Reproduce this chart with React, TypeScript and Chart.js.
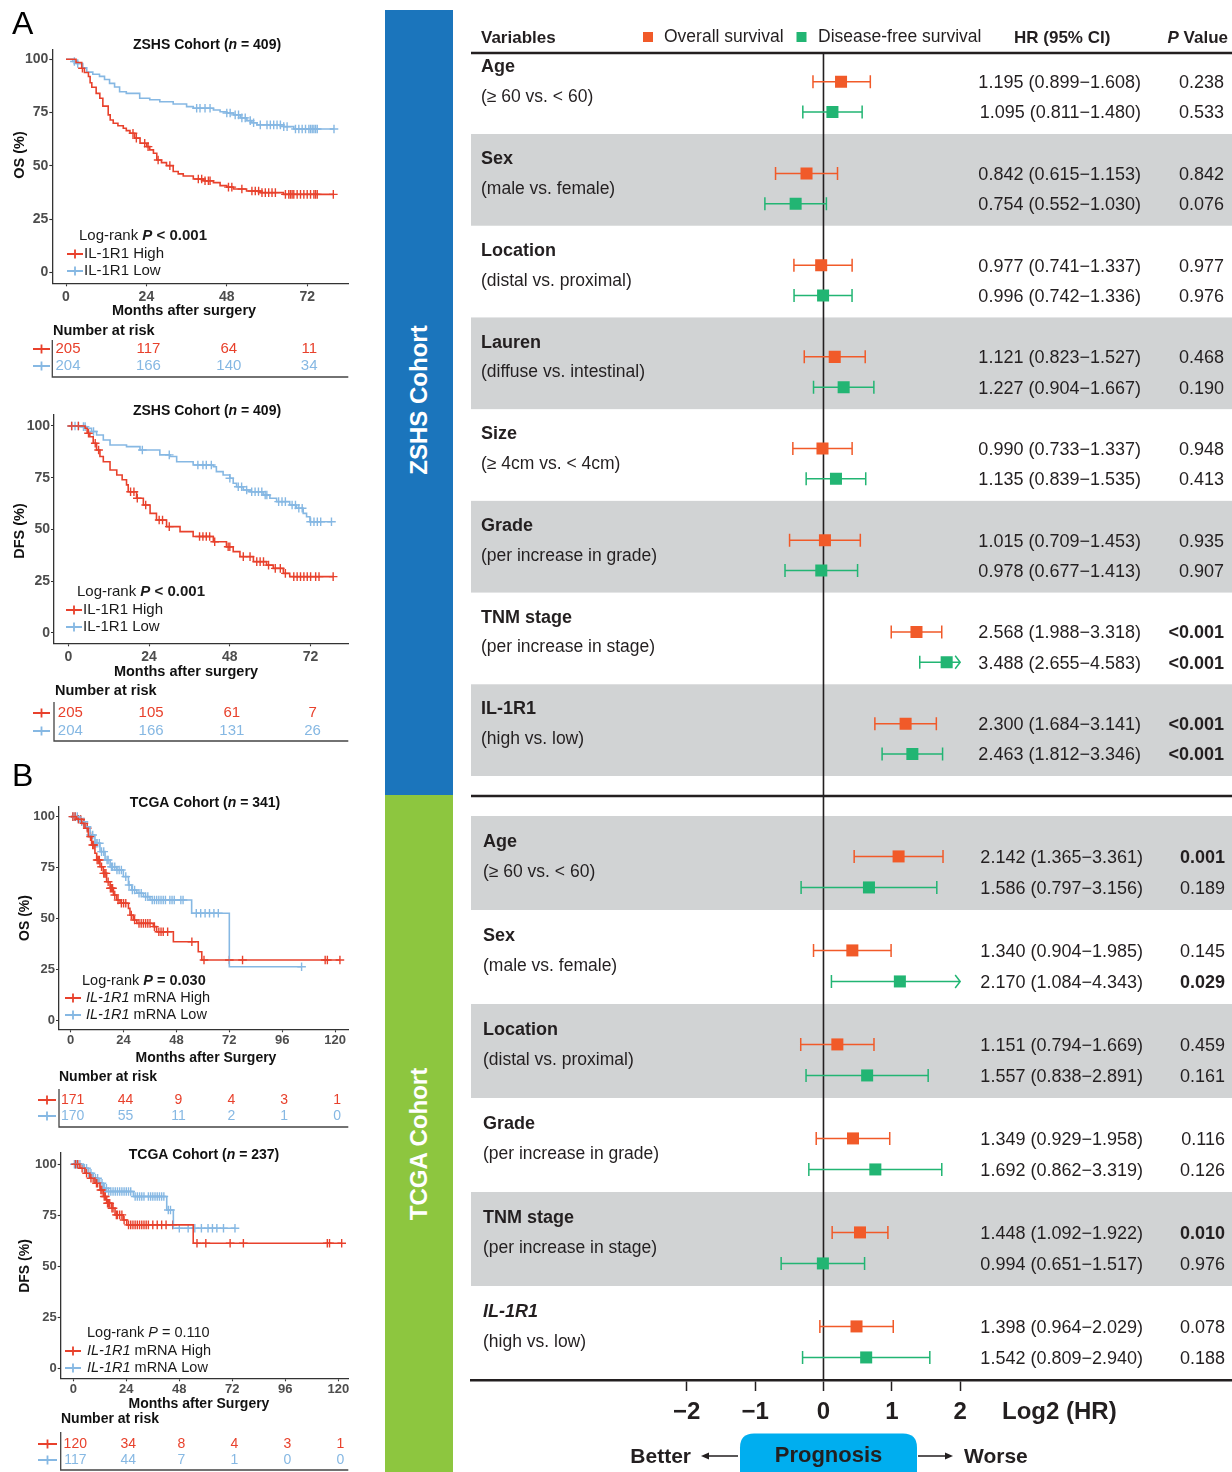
import React, { useEffect, useRef } from "react";
import { Chart, registerables } from "chart.js";

Chart.register(...registerables);

const FONT = "'Liberation Sans', Arial, Helvetica, sans-serif";
Chart.defaults.font.family = FONT;

// ---------------- colours ----------------
const RED = "#E8412C";
const BLUE = "#86B8E3";
const OS_COL = "#F15A29";
const DFS_COL = "#22B573";
const BAND_GRAY = "#D1D3D4";
const INK = "#231F20";

// ---------------- Kaplan-Meier data ----------------
const MONTH_TICKS_ZSHS = [0, 24, 48, 72];
const MONTH_TICKS_TCGA = [0, 24, 48, 72, 96, 120];
const SURV_TICKS = [0, 25, 50, 75, 100];

// A – ZSHS OS
const A_OS_HIGH_T = [0, 3.0, 4.7, 5.5, 6.7, 7.2, 7.7, 9.0, 10.1, 11.0, 12.6, 13.2, 14.1, 15.5, 17.1, 18.0, 19.1, 20.5, 22.1, 24.1, 25.0, 26.1, 27.1, 28.5, 30.0, 32.0, 33.5, 35.0, 38.0, 41.0, 44.0, 46.0, 48.0, 50.0, 53.9, 58.0, 64.9, 79.8];
const A_OS_HIGH_S = [100, 98.5, 95.8, 93.8, 91.9, 89.0, 86.9, 84.0, 81.7, 78.0, 73.9, 71.5, 70.0, 68.8, 67.6, 66.5, 65.3, 63.0, 60.6, 59.0, 57.5, 55.9, 52.7, 51.5, 50.1, 47.3, 46.2, 45.2, 43.8, 43.0, 42.1, 40.7, 40.0, 39.1, 38.2, 37.4, 36.6, 36.6];
const A_OS_HIGH_C = [4.9, 20.0, 21.0, 23.5, 24.5, 27.5, 31.0, 39.5, 40.5, 41.5, 42.5, 43.0, 48.5, 49.5, 52.5, 55.5, 56.5, 57.5, 58.5, 59.5, 60.5, 61.5, 62.5, 65.5, 66.5, 67.0, 67.5, 68.0, 69.0, 70.0, 71.0, 72.0, 73.0, 74.0, 74.5, 75.0, 79.8];
const A_OS_LOW_T = [0, 2.0, 3.2, 5.0, 6.2, 8.0, 10.0, 11.5, 13.0, 14.5, 16.0, 18.0, 22.0, 25.0, 28.0, 32.0, 36.0, 38.0, 44.0, 46.0, 48.0, 50.0, 52.0, 54.0, 55.5, 57.0, 65.0, 68.0, 80.0];
const A_OS_LOW_S = [100, 99.0, 98.0, 96.0, 94.0, 93.0, 92.0, 90.5, 88.7, 87.0, 84.8, 84.0, 81.7, 81.0, 80.1, 79.0, 77.8, 77.0, 76.2, 75.4, 74.8, 73.9, 72.5, 71.2, 70.2, 69.2, 68.4, 67.3, 67.3];
const A_OS_LOW_C = [2.5, 3.5, 39, 40, 41.5, 43, 48, 49, 50.5, 51.5, 52.5, 53.5, 55, 56, 58, 60, 61, 62, 63, 64, 65, 66, 68.5, 69.5, 70.5, 71.5, 72.5, 73, 73.5, 74, 74.5, 75, 80];
const A_OS_RISK_HIGH = [205, 117, 64, 11];
const A_OS_RISK_LOW = [204, 166, 140, 34];

// A – ZSHS DFS
const A_DFS_HIGH_T = [0, 4.0, 5.0, 5.6, 6.4, 7.4, 8.4, 9.4, 10.4, 12.4, 14.4, 16.0, 17.3, 17.8, 20.3, 22.3, 24.3, 26.2, 29.2, 33.2, 37.1, 43.1, 47.0, 49.0, 51.0, 55.0, 58.9, 60.9, 63.9, 65.8, 78.7];
const A_DFS_HIGH_S = [100, 100, 98.9, 96.5, 94.8, 91.6, 88.4, 85.2, 82.7, 78.7, 76.3, 74.0, 71.5, 68.2, 65.0, 61.8, 57.7, 54.5, 51.3, 48.9, 46.5, 44.0, 41.6, 39.2, 36.8, 34.4, 32.7, 31.1, 28.7, 27.1, 27.1];
const A_DFS_HIGH_C = [1.0, 3.0, 6.0, 8.0, 9.0, 18.5, 19.5, 20.5, 23.0, 27.0, 28.0, 30.0, 39.0, 40.0, 41.0, 42.0, 43.5, 47.5, 48.0, 52.0, 54.0, 56.0, 57.0, 58.0, 59.5, 61.5, 63.0, 64.5, 67.0, 68.0, 69.0, 70.0, 71.0, 72.0, 73.5, 74.5, 78.7];
const A_DFS_LOW_T = [0, 3.5, 5.4, 6.9, 8.4, 10.4, 12.4, 17.3, 21.3, 27.2, 30.2, 32.2, 37.1, 43.1, 44.0, 46.0, 48.0, 49.0, 50.0, 52.0, 54.0, 57.9, 59.9, 61.9, 65.8, 67.8, 69.8, 70.8, 71.8, 78.2];
const A_DFS_LOW_S = [100, 99.7, 98.9, 97.3, 95.6, 93.2, 90.8, 90.0, 88.4, 86.0, 85.2, 82.7, 81.1, 80.3, 77.9, 76.3, 74.7, 72.3, 70.6, 69.0, 68.2, 66.6, 65.0, 63.4, 61.8, 60.2, 57.7, 56.1, 53.7, 53.7];
const A_DFS_LOW_C = [1.0, 2.0, 3.0, 4.5, 5.0, 7.5, 22.0, 30.0, 38.5, 40.0, 41.0, 42.5, 48.0, 50.5, 51.5, 53.0, 54.5, 55.5, 56.5, 57.5, 58.5, 59.0, 62.5, 63.5, 64.5, 66.5, 67.5, 68.5, 69.5, 72.0, 73.0, 74.0, 75.0, 78.2];
const A_DFS_RISK_HIGH = [205, 105, 61, 7];
const A_DFS_RISK_LOW = [204, 166, 131, 26];

// B – TCGA OS
const B_OS_HIGH_T = [0, 2.7, 5.0, 6.5, 8.0, 9.5, 11.0, 11.8, 13.3, 14.8, 16.3, 17.9, 19.4, 20.9, 22.4, 26.2, 26.9, 28.4, 30.0, 37.5, 39.0, 46.6, 57.9, 59.5, 122.2];
const B_OS_HIGH_S = [100, 98.7, 96.7, 94.3, 90.2, 86.1, 82.0, 78.7, 75.4, 72.1, 68.0, 64.8, 61.5, 59.0, 57.4, 54.9, 51.6, 49.2, 47.5, 45.9, 43.4, 38.5, 33.6, 29.5, 29.5];
const B_OS_HIGH_C = [1, 2, 3.5, 4.5, 6, 7.5, 9, 10, 10.5, 12, 12.5, 13, 14, 15, 15.5, 16, 17, 18, 18.5, 19, 20, 21.5, 23, 24, 25, 27.5, 29, 31, 32, 33, 34, 35, 36, 38, 40, 41, 42, 44, 55, 60.5, 72, 78, 115.5, 116.5, 122.2];
const B_OS_LOW_T = [0, 4.2, 6.5, 8.8, 11.0, 13.3, 15.6, 17.9, 20.9, 23.9, 26.2, 27.7, 30.0, 33.0, 36.0, 54.9, 72.0, 104.8];
const B_OS_LOW_S = [100, 97.5, 95.0, 91.0, 86.9, 82.8, 78.7, 75.4, 73.8, 70.5, 66.4, 63.9, 62.3, 60.7, 59.0, 52.5, 26.2, 26.2];
const B_OS_LOW_C = [1, 2, 3, 5, 6, 7.5, 9, 10, 11.5, 12, 13, 14, 15, 16.5, 17, 18.5, 19, 20, 21, 22, 23, 25, 26.5, 28, 29, 31, 32, 34, 35, 37, 38, 39, 40, 41, 42, 43, 45, 46, 47, 50, 51, 57, 59, 61, 63, 65, 67, 104.8];
const B_OS_RISK_HIGH = [171, 44, 9, 4, 3, 1];
const B_OS_RISK_LOW = [170, 55, 11, 2, 1, 0];

// B – TCGA DFS
const B_DFS_HIGH_T = [0, 3.0, 5.3, 7.5, 9.8, 12.1, 13.6, 15.1, 17.4, 18.9, 22.6, 24.2, 54.3, 121.5];
const B_DFS_HIGH_S = [100, 98.0, 95.6, 93.1, 90.7, 87.4, 84.2, 80.9, 78.4, 75.2, 72.7, 70.3, 61.3, 61.3];
const B_DFS_HIGH_C = [1, 2, 4, 6, 8, 9, 10.5, 11, 12.5, 13, 14, 14.5, 15.5, 16, 16.5, 17.5, 18, 19.5, 20, 21, 22, 23, 25, 26, 27, 28, 29, 30, 31, 32, 33, 34, 36, 38, 40, 42, 45, 56, 60, 71, 77, 115, 116, 121.5];
const B_DFS_LOW_T = [0, 4.5, 6.8, 9.0, 11.3, 13.6, 15.1, 27.2, 42.3, 45.3, 73.2];
const B_DFS_LOW_S = [100, 98.0, 95.6, 93.1, 90.7, 88.2, 86.6, 84.2, 77.6, 68.6, 68.6];
const B_DFS_LOW_C = [0.5, 1, 1.5, 2, 3, 5, 6, 7, 8, 10, 11, 12, 13, 14, 15, 16, 17, 18, 19, 20, 21, 22, 23, 24, 25, 26, 28, 29, 30, 31, 32, 34, 35, 36, 37, 38, 39, 40, 41, 43, 44, 48, 52, 55, 58, 61, 63, 65, 68, 73.2];
const B_DFS_RISK_HIGH = [120, 34, 8, 4, 3, 1];
const B_DFS_RISK_LOW = [117, 44, 7, 1, 0, 0];

// ---------------- Forest plot data ----------------
const ZSHS_VARS = ["Age", "Sex", "Location", "Lauren", "Size", "Grade", "TNM stage", "IL-1R1"];
const ZSHS_DESC = ["(\u2265 60 vs. < 60)", "(male vs. female)", "(distal vs. proximal)", "(diffuse vs. intestinal)", "(\u2265 4cm vs. < 4cm)", "(per increase in grade)", "(per increase in stage)", "(high vs. low)"];
const ZSHS_OS_HR = [1.195, 0.842, 0.977, 1.121, 0.990, 1.015, 2.568, 2.300];
const ZSHS_OS_LO = [0.899, 0.615, 0.741, 0.823, 0.733, 0.709, 1.988, 1.684];
const ZSHS_OS_HI = [1.608, 1.153, 1.337, 1.527, 1.337, 1.453, 3.318, 3.141];
const ZSHS_OS_P = ["0.238", "0.842", "0.977", "0.468", "0.948", "0.935", "<0.001", "<0.001"];
const ZSHS_DFS_HR = [1.095, 0.754, 0.996, 1.227, 1.135, 0.978, 3.488, 2.463];
const ZSHS_DFS_LO = [0.811, 0.552, 0.742, 0.904, 0.839, 0.677, 2.655, 1.812];
const ZSHS_DFS_HI = [1.480, 1.030, 1.336, 1.667, 1.535, 1.413, 4.583, 3.346];
const ZSHS_DFS_P = ["0.533", "0.076", "0.976", "0.190", "0.413", "0.907", "<0.001", "<0.001"];

const TCGA_VARS = ["Age", "Sex", "Location", "Grade", "TNM stage", "IL-1R1"];
const TCGA_DESC = ["(\u2265 60 vs. < 60)", "(male vs. female)", "(distal vs. proximal)", "(per increase in grade)", "(per increase in stage)", "(high vs. low)"];
const TCGA_OS_HR = [2.142, 1.340, 1.151, 1.349, 1.448, 1.398];
const TCGA_OS_LO = [1.365, 0.904, 0.794, 0.929, 1.092, 0.964];
const TCGA_OS_HI = [3.361, 1.985, 1.669, 1.958, 1.922, 2.029];
const TCGA_OS_P = ["0.001", "0.145", "0.459", "0.116", "0.010", "0.078"];
const TCGA_DFS_HR = [1.586, 2.170, 1.557, 1.692, 0.994, 1.542];
const TCGA_DFS_LO = [0.797, 1.084, 0.838, 0.862, 0.651, 0.809];
const TCGA_DFS_HI = [3.156, 4.343, 2.891, 3.319, 1.517, 2.940];
const TCGA_DFS_P = ["0.189", "0.029", "0.161", "0.126", "0.976", "0.188"];

const LOG2_TICKS = [-2, -1, 0, 1, 2];
const LOG2_CLIP = 2;

// ---------------- helpers ----------------
type Seg = { t: string; f: string };

function drawRich(ctx: any, segs: Seg[], x: number, y: number, align: string, color: string) {
  ctx.save();
  ctx.fillStyle = color;
  ctx.textBaseline = "middle";
  ctx.textAlign = "left";
  let total = 0;
  const widths = segs.map((s) => {
    ctx.font = `${s.f} ${FONT}`;
    const w = ctx.measureText(s.t).width;
    total += w;
    return w;
  });
  let cx = align === "center" ? x - total / 2 : align === "right" ? x - total : x;
  segs.forEach((s, i) => {
    ctx.font = `${s.f} ${FONT}`;
    ctx.fillText(s.t, cx, y);
    cx += widths[i];
  });
  ctx.restore();
}

function stepAt(t: number[], s: number[], v: number) {
  let r = s[0];
  for (let i = 0; i < t.length; i++) if (t[i] <= v) r = s[i];
  return r;
}

function lineCross(ctx: any, x0: number, x1: number, y: number, color: string) {
  ctx.save();
  ctx.strokeStyle = color;
  ctx.lineWidth = 1.8;
  ctx.beginPath();
  ctx.moveTo(x0, y);
  ctx.lineTo(x1, y);
  const xm = (x0 + x1) / 2;
  ctx.moveTo(xm, y - 4.5);
  ctx.lineTo(xm, y + 4.5);
  ctx.stroke();
  ctx.restore();
}

// ---------------- KM specs ----------------
const KM_SPECS: any[] = [
  {
    cv: { left: 0, top: 0, w: 380, h: 385 },
    area: { L: 52.3, R: 348.3, T: 49.3, B: 283.3 },
    xMin: -4.09, xMax: 84.27, yMin: -5.16, yMax: 104.7,
    xTicks: MONTH_TICKS_ZSHS, tickFont: 14, xPad: 2,
    high: { t: A_OS_HIGH_T, s: A_OS_HIGH_S, c: A_OS_HIGH_C },
    low: { t: A_OS_LOW_T, s: A_OS_LOW_S, c: A_OS_LOW_C },
    riskHigh: A_OS_RISK_HIGH, riskLow: A_OS_RISK_LOW,
    letter: { text: "A", y: 25 },
    title: [{ t: "ZSHS Cohort (", f: "bold 14px" }, { t: "n", f: "italic bold 14px" }, { t: " = 409)", f: "bold 14px" }],
    titleX: 207, titleY: 45,
    yTitle: "OS (%)", yTitleX: 20, yTitleY: 155,
    xTitle: "Months after surgery", xTitleX: 184, xTitleY: 311, xTitleSize: 14.5,
    logrank: [{ t: "Log-rank ", f: "15px" }, { t: "P", f: "italic bold 15px" }, { t: " < 0.001", f: "bold 15px" }],
    logX: 79, logY: 236,
    legHigh: [{ t: "IL-1R1 High", f: "15px" }], legLow: [{ t: "IL-1R1 Low", f: "15px" }],
    legLineX: 67, legTextX: 84, legY1: 254, legY2: 271,
    narX: 53, narY: 331, narSize: 14.5, riskY1: 349, riskY2: 366, riskTop: 340, riskBottom: 377, riskFont: 15, symX0: 33, symX1: 50,
  },
  {
    cv: { left: 0, top: 385, w: 380, h: 375 },
    area: { L: 54, R: 348.3, T: 415, B: 643.3 },
    xMin: -4.25, xMax: 83.2, yMin: -5.13, yMax: 105.3,
    xTicks: MONTH_TICKS_ZSHS, tickFont: 14, xPad: 2,
    high: { t: A_DFS_HIGH_T, s: A_DFS_HIGH_S, c: A_DFS_HIGH_C },
    low: { t: A_DFS_LOW_T, s: A_DFS_LOW_S, c: A_DFS_LOW_C },
    riskHigh: A_DFS_RISK_HIGH, riskLow: A_DFS_RISK_LOW,
    title: [{ t: "ZSHS Cohort (", f: "bold 14px" }, { t: "n", f: "italic bold 14px" }, { t: " = 409)", f: "bold 14px" }],
    titleX: 207, titleY: 411,
    yTitle: "DFS (%)", yTitleX: 20, yTitleY: 531,
    xTitle: "Months after surgery", xTitleX: 186, xTitleY: 672, xTitleSize: 14.5,
    logrank: [{ t: "Log-rank ", f: "15px" }, { t: "P", f: "italic bold 15px" }, { t: " < 0.001", f: "bold 15px" }],
    logX: 77, logY: 592,
    legHigh: [{ t: "IL-1R1 High", f: "15px" }], legLow: [{ t: "IL-1R1 Low", f: "15px" }],
    legLineX: 66, legTextX: 83, legY1: 610, legY2: 627,
    narX: 55, narY: 691, narSize: 14.5, riskY1: 713, riskY2: 731, riskTop: 702, riskBottom: 741, riskFont: 15, symX0: 33, symX1: 50,
  },
  {
    cv: { left: 0, top: 760, w: 380, h: 375 },
    area: { L: 59, R: 348.3, T: 806.7, B: 1029.3 },
    xMin: -5.31, xMax: 126, yMin: -4.57, yMax: 104.9,
    xTicks: MONTH_TICKS_TCGA, tickFont: 13, xPad: 0,
    high: { t: B_OS_HIGH_T, s: B_OS_HIGH_S, c: B_OS_HIGH_C },
    low: { t: B_OS_LOW_T, s: B_OS_LOW_S, c: B_OS_LOW_C },
    riskHigh: B_OS_RISK_HIGH, riskLow: B_OS_RISK_LOW,
    letter: { text: "B", y: 777 },
    title: [{ t: "TCGA Cohort (", f: "bold 14px" }, { t: "n", f: "italic bold 14px" }, { t: " = 341)", f: "bold 14px" }],
    titleX: 205, titleY: 803,
    yTitle: "OS (%)", yTitleX: 25, yTitleY: 918,
    xTitle: "Months after Surgery", xTitleX: 206, xTitleY: 1058, xTitleSize: 14,
    logrank: [{ t: "Log-rank ", f: "14.5px" }, { t: "P", f: "italic bold 14.5px" }, { t: " = 0.030", f: "bold 14.5px" }],
    logX: 82, logY: 981,
    legHigh: [{ t: "IL-1R1", f: "italic 14.5px" }, { t: " mRNA High", f: "14.5px" }],
    legLow: [{ t: "IL-1R1", f: "italic 14.5px" }, { t: " mRNA Low", f: "14.5px" }],
    legLineX: 65, legTextX: 86, legY1: 998, legY2: 1015,
    narX: 59, narY: 1077, narSize: 14, riskY1: 1100, riskY2: 1116, riskTop: 1089, riskBottom: 1127, riskFont: 14, symX0: 38, symX1: 56,
  },
  {
    cv: { left: 0, top: 1135, w: 380, h: 337 },
    area: { L: 60.7, R: 348.3, T: 1153, B: 1378.3 },
    xMin: -5.7, xMax: 124.5, yMin: -4.9, yMax: 105.5,
    xTicks: MONTH_TICKS_TCGA, tickFont: 13, xPad: 0,
    high: { t: B_DFS_HIGH_T, s: B_DFS_HIGH_S, c: B_DFS_HIGH_C },
    low: { t: B_DFS_LOW_T, s: B_DFS_LOW_S, c: B_DFS_LOW_C },
    riskHigh: B_DFS_RISK_HIGH, riskLow: B_DFS_RISK_LOW,
    title: [{ t: "TCGA Cohort (", f: "bold 14px" }, { t: "n", f: "italic bold 14px" }, { t: " = 237)", f: "bold 14px" }],
    titleX: 204, titleY: 1155,
    yTitle: "DFS (%)", yTitleX: 25, yTitleY: 1266,
    xTitle: "Months after Surgery", xTitleX: 199, xTitleY: 1404, xTitleSize: 14,
    logrank: [{ t: "Log-rank ", f: "14.5px" }, { t: "P", f: "italic 14.5px" }, { t: " = 0.110", f: "14.5px" }],
    logX: 87, logY: 1333,
    legHigh: [{ t: "IL-1R1", f: "italic 14.5px" }, { t: " mRNA High", f: "14.5px" }],
    legLow: [{ t: "IL-1R1", f: "italic 14.5px" }, { t: " mRNA Low", f: "14.5px" }],
    legLineX: 65, legTextX: 87, legY1: 1351, legY2: 1368,
    narX: 61, narY: 1419, narSize: 14, riskY1: 1444, riskY2: 1460, riskTop: 1432, riskBottom: 1470, riskFont: 14, symX0: 38, symX1: 57,
  },
];

function kmConfig(s: any): any {
  const YW = 40, XH = 30;
  const padding = {
    left: s.area.L - s.cv.left - YW,
    right: s.cv.left + s.cv.w - s.area.R,
    top: s.area.T - s.cv.top,
    bottom: s.cv.top + s.cv.h - s.area.B - XH,
  };
  const curve = (g: any, color: string) => ({
    data: g.t.map((t: number, i: number) => ({ x: t, y: g.s[i] })),
    showLine: true, stepped: "before", borderColor: color, backgroundColor: color,
    borderWidth: 1.6, pointRadius: 0, fill: false,
  });
  const cens = (g: any, color: string) => ({
    data: g.c.map((t: number) => ({ x: t, y: stepAt(g.t, g.s, t) })),
    showLine: false, pointStyle: "cross", pointRadius: 4.3, borderColor: color,
    backgroundColor: color, borderWidth: 1.4,
  });
  const axis = (ticks: number[], min: number, max: number, fit: any, pad: number) => ({
    type: "linear", min, max,
    afterBuildTicks: (sc: any) => { sc.ticks = ticks.map((v) => ({ value: v })); },
    afterFit: fit,
    grid: { display: true, drawOnChartArea: false, drawTicks: true, tickLength: 3, tickColor: "#333", tickWidth: 1.1 },
    border: { display: true, color: "#333", width: 1.3 },
    ticks: { font: { size: s.tickFont, weight: "bold", family: FONT }, color: "#4D4D4D", padding: pad, autoSkip: false, maxRotation: 0 },
  });
  const overlay = {
    id: "kmOverlay",
    afterDraw(chart: any) {
      const ctx = chart.ctx;
      const X = (v: number) => v - s.cv.left;
      const Y = (v: number) => v - s.cv.top;
      ctx.save();
      if (s.letter) {
        ctx.font = `32px ${FONT}`;
        ctx.fillStyle = "#000";
        ctx.textBaseline = "middle";
        ctx.textAlign = "left";
        ctx.fillText(s.letter.text, X(12), Y(s.letter.y));
      }
      drawRich(ctx, s.title, X(s.titleX), Y(s.titleY), "center", "#111");
      ctx.save();
      ctx.translate(X(s.yTitleX), Y(s.yTitleY));
      ctx.rotate(-Math.PI / 2);
      ctx.font = `bold ${s.xTitleSize}px ${FONT}`;
      ctx.fillStyle = "#111";
      ctx.textAlign = "center";
      ctx.textBaseline = "middle";
      ctx.fillText(s.yTitle, 0, 0);
      ctx.restore();
      drawRich(ctx, [{ t: s.xTitle, f: `bold ${s.xTitleSize}px` }], X(s.xTitleX), Y(s.xTitleY), "center", "#111");
      drawRich(ctx, s.logrank, X(s.logX), Y(s.logY), "left", "#1A1A1A");
      lineCross(ctx, X(s.legLineX), X(s.legLineX + 16), Y(s.legY1), RED);
      lineCross(ctx, X(s.legLineX), X(s.legLineX + 16), Y(s.legY2), BLUE);
      drawRich(ctx, s.legHigh, X(s.legTextX), Y(s.legY1), "left", "#1A1A1A");
      drawRich(ctx, s.legLow, X(s.legTextX), Y(s.legY2), "left", "#1A1A1A");
      drawRich(ctx, [{ t: "Number at risk", f: `bold ${s.narSize}px` }], X(s.narX), Y(s.narY), "left", "#111");
      const xs = chart.scales.x;
      s.xTicks.forEach((t: number, i: number) => {
        const px = xs.getPixelForValue(t) + 2;
        drawRich(ctx, [{ t: String(s.riskHigh[i]), f: `${s.riskFont}px` }], px, Y(s.riskY1), "center", RED);
        drawRich(ctx, [{ t: String(s.riskLow[i]), f: `${s.riskFont}px` }], px, Y(s.riskY2), "center", BLUE);
      });
      ctx.strokeStyle = "#444";
      ctx.lineWidth = 1.3;
      ctx.beginPath();
      ctx.moveTo(X(s.area.L), Y(s.riskTop));
      ctx.lineTo(X(s.area.L), Y(s.riskBottom));
      ctx.lineTo(X(s.area.R), Y(s.riskBottom));
      ctx.stroke();
      lineCross(ctx, X(s.symX0), X(s.symX1), Y(s.riskY1), RED);
      lineCross(ctx, X(s.symX0), X(s.symX1), Y(s.riskY2), BLUE);
      ctx.restore();
    },
  };
  return {
    type: "scatter",
    data: {
      datasets: [
        curve(s.high, RED),
        curve(s.low, BLUE),
        cens(s.high, RED),
        cens(s.low, BLUE),
      ],
    },
    options: {
      responsive: false, animation: false, devicePixelRatio: 1, events: [],
      layout: { padding, autoPadding: false },
      plugins: { legend: { display: false }, tooltip: { enabled: false } },
      scales: {
        x: axis(s.xTicks, s.xMin, s.xMax, (sc: any) => { sc.height = XH; }, s.xPad),
        y: axis(SURV_TICKS, s.yMin, s.yMax, (sc: any) => { sc.width = YW; }, 1),
      },
    },
    plugins: [overlay],
  };
}

// ---------------- Forest specs ----------------
const X_MIN = -5.157;
const X_MAX = 5.977;
const OFF_OS = -0.07;
const OFF_DFS = 0.26;

const FOREST_SPECS: any[] = [
  {
    cv: { left: 460, top: 0, w: 772, h: 800 },
    areaT: 42.3, areaB: 776, axis: false, header: true, grayParity: 1,
    zeroTop: 53, separatorY: 796, labelX: 481, italicLast: false,
    vars: ZSHS_VARS, desc: ZSHS_DESC,
    osHR: ZSHS_OS_HR, osLo: ZSHS_OS_LO, osHi: ZSHS_OS_HI, osP: ZSHS_OS_P,
    dfsHR: ZSHS_DFS_HR, dfsLo: ZSHS_DFS_LO, dfsHi: ZSHS_DFS_HI, dfsP: ZSHS_DFS_P,
    hrRight: 1141, pRight: 1224,
  },
  {
    cv: { left: 460, top: 800, w: 772, h: 672 },
    areaT: 816, areaB: 1380, axis: true, header: false, grayParity: 0,
    zeroTop: 800, separatorY: null, labelX: 483, italicLast: true,
    vars: TCGA_VARS, desc: TCGA_DESC,
    osHR: TCGA_OS_HR, osLo: TCGA_OS_LO, osHi: TCGA_OS_HI, osP: TCGA_OS_P,
    dfsHR: TCGA_DFS_HR, dfsLo: TCGA_DFS_LO, dfsHi: TCGA_DFS_HI, dfsP: TCGA_DFS_P,
    hrRight: 1143, pRight: 1225,
  },
];

const fmtHR = (h: number, l: number, u: number) => `${h.toFixed(3)} (${l.toFixed(3)}\u2212${u.toFixed(3)})`;
const isSig = (p: string) => p.startsWith("<") || parseFloat(p) < 0.05;

function arrowHead(ctx: any, x: number, y: number, dir: number) {
  ctx.beginPath();
  ctx.moveTo(x, y);
  ctx.lineTo(x - dir * 8, y - 3.5);
  ctx.lineTo(x - dir * 8, y + 3.5);
  ctx.closePath();
  ctx.fill();
}

function forestConfig(f: any): any {
  const n = f.vars.length;
  const XH = 92;
  const padding = f.axis
    ? { left: 11, right: 0, top: f.areaT - f.cv.top, bottom: 0 }
    : { left: 11, right: 0, top: f.areaT - f.cv.top, bottom: f.cv.top + f.cv.h - f.areaB };
  const X = (v: number) => v - f.cv.left;
  const Y = (v: number) => v - f.cv.top;

  const ds = (hr: number[], lo: number[], hi: number[], off: number, color: string) => ({
    data: hr.map((h, i) => ({ x: Math.log2(h), y: i + off })),
    ciLo: lo.map((v) => Math.log2(v)),
    ciHi: hi.map((v) => Math.log2(v)),
    pointStyle: "rect", pointRadius: 8.5, backgroundColor: color, borderColor: color, borderWidth: 0,
    showLine: false,
  });

  const overlay = {
    id: "forestOverlay",
    beforeDraw(chart: any) {
      const { ctx, chartArea: ca, scales } = chart;
      const y = scales.y, x = scales.x;
      ctx.save();
      ctx.fillStyle = BAND_GRAY;
      for (let i = 0; i < n; i++) {
        if (i % 2 !== f.grayParity) continue;
        const t = y.getPixelForValue(i - 0.5), b = y.getPixelForValue(i + 0.5);
        ctx.fillRect(ca.left, t, ca.right - ca.left, b - t);
      }
      const x0 = x.getPixelForValue(0);
      ctx.strokeStyle = INK;
      ctx.lineWidth = 1.6;
      ctx.beginPath();
      ctx.moveTo(x0, Y(f.zeroTop));
      ctx.lineTo(x0, f.axis ? ca.bottom : chart.height);
      ctx.stroke();
      ctx.lineWidth = 2.5;
      if (f.header) {
        ctx.beginPath();
        ctx.moveTo(ca.left, Y(53));
        ctx.lineTo(ca.right, Y(53));
        ctx.stroke();
      }
      if (f.separatorY) {
        ctx.beginPath();
        ctx.moveTo(ca.left, Y(f.separatorY));
        ctx.lineTo(ca.right, Y(f.separatorY));
        ctx.stroke();
      }
      ctx.restore();
    },
    afterDraw(chart: any) {
      const { ctx, scales } = chart;
      const y = scales.y;
      ctx.save();
      if (f.header) {
        drawRich(ctx, [{ t: "Variables", f: "bold 17px" }], X(481), Y(38), "left", INK);
        ctx.fillStyle = OS_COL;
        ctx.fillRect(X(643), Y(32), 10, 10);
        ctx.fillStyle = DFS_COL;
        ctx.fillRect(X(796.5), Y(32), 10, 10);
        drawRich(ctx, [{ t: "Overall survival", f: "17.5px" }], X(664), Y(37), "left", INK);
        drawRich(ctx, [{ t: "Disease-free survival", f: "17.5px" }], X(818), Y(37), "left", INK);
        drawRich(ctx, [{ t: "HR (95% CI)", f: "bold 17px" }], X(1014), Y(38), "left", INK);
        drawRich(ctx, [{ t: "P", f: "italic bold 17px" }, { t: " Value", f: "bold 17px" }], X(1228), Y(38), "right", INK);
      }
      for (let i = 0; i < n; i++) {
        const nameFont = f.italicLast && i === n - 1 ? "italic bold 18px" : "bold 18px";
        drawRich(ctx, [{ t: f.vars[i], f: nameFont }], X(f.labelX), y.getPixelForValue(i - 0.225), "left", INK);
        drawRich(ctx, [{ t: f.desc[i], f: "17.5px" }], X(f.labelX), y.getPixelForValue(i + 0.1), "left", INK);
        const yo = y.getPixelForValue(i + OFF_OS) + 1.5;
        const yd = y.getPixelForValue(i + OFF_DFS) + 1.5;
        drawRich(ctx, [{ t: fmtHR(f.osHR[i], f.osLo[i], f.osHi[i]), f: "18px" }], X(f.hrRight), yo, "right", INK);
        drawRich(ctx, [{ t: fmtHR(f.dfsHR[i], f.dfsLo[i], f.dfsHi[i]), f: "18px" }], X(f.hrRight), yd, "right", INK);
        drawRich(ctx, [{ t: f.osP[i], f: isSig(f.osP[i]) ? "bold 18px" : "18px" }], X(f.pRight), yo, "right", INK);
        drawRich(ctx, [{ t: f.dfsP[i], f: isSig(f.dfsP[i]) ? "bold 18px" : "18px" }], X(f.pRight), yd, "right", INK);
      }
      if (f.axis) {
        drawRich(ctx, [{ t: "Log2 (HR)", f: "bold 24px" }], X(1002), Y(1412), "left", INK);
        const pl = X(740), pr = X(917), pt = Y(1433.5), pb = Y(1500), r = 14;
        ctx.fillStyle = "#00AEEF";
        ctx.beginPath();
        ctx.moveTo(pl + r, pt);
        ctx.lineTo(pr - r, pt);
        ctx.quadraticCurveTo(pr, pt, pr, pt + r);
        ctx.lineTo(pr, pb);
        ctx.lineTo(pl, pb);
        ctx.lineTo(pl, pt + r);
        ctx.quadraticCurveTo(pl, pt, pl + r, pt);
        ctx.closePath();
        ctx.fill();
        drawRich(ctx, [{ t: "Prognosis", f: "bold 22px" }], X(828.5), Y(1456), "center", INK);
        drawRich(ctx, [{ t: "Better", f: "bold 21px" }], X(691), Y(1457), "right", INK);
        drawRich(ctx, [{ t: "Worse", f: "bold 21px" }], X(964), Y(1457), "left", INK);
        ctx.strokeStyle = INK;
        ctx.fillStyle = INK;
        ctx.lineWidth = 1.3;
        ctx.beginPath();
        ctx.moveTo(X(738), Y(1456));
        ctx.lineTo(X(706), Y(1456));
        ctx.moveTo(X(918), Y(1456));
        ctx.lineTo(X(948), Y(1456));
        ctx.stroke();
        arrowHead(ctx, X(701), Y(1456), -1);
        arrowHead(ctx, X(953), Y(1456), 1);
      }
      ctx.restore();
    },
  };

  const ciPlugin = {
    id: "ciBars",
    beforeDatasetsDraw(chart: any) {
      const { ctx, scales } = chart;
      const x = scales.x, y = scales.y;
      chart.data.datasets.forEach((d: any) => {
        if (!d.ciLo) return;
        ctx.save();
        ctx.strokeStyle = d.borderColor;
        ctx.lineWidth = 1.5;
        d.data.forEach((p: any, i: number) => {
          const py = y.getPixelForValue(p.y);
          const lo = d.ciLo[i], hi = d.ciHi[i];
          const clipped = hi > LOG2_CLIP;
          const x0 = x.getPixelForValue(lo);
          const x1 = x.getPixelForValue(Math.min(hi, LOG2_CLIP));
          ctx.beginPath();
          ctx.moveTo(x0, py);
          ctx.lineTo(x1, py);
          ctx.moveTo(x0, py - 6.5);
          ctx.lineTo(x0, py + 6.5);
          if (clipped) {
            ctx.moveTo(x1 - 5, py - 6.5);
            ctx.lineTo(x1, py);
            ctx.lineTo(x1 - 5, py + 6.5);
          } else {
            ctx.moveTo(x1, py - 6.5);
            ctx.lineTo(x1, py + 6.5);
          }
          ctx.stroke();
        });
        ctx.restore();
      });
    },
  };

  const xScale: any = {
    type: "linear", min: X_MIN, max: X_MAX, display: f.axis,
    afterBuildTicks: (sc: any) => { sc.ticks = LOG2_TICKS.map((v) => ({ value: v })); },
    grid: { display: true, drawOnChartArea: false, drawTicks: true, tickLength: 11, tickColor: INK, tickWidth: 1.5 },
    border: { display: true, color: INK, width: 2.5 },
    ticks: {
      font: { size: 24, weight: "bold", family: FONT }, color: INK, padding: 7, autoSkip: false, maxRotation: 0,
      callback: (v: any) => (v < 0 ? "\u2212" + Math.abs(v) : String(v)),
    },
  };
  if (f.axis) xScale.afterFit = (sc: any) => { sc.height = XH; };

  return {
    type: "scatter",
    data: {
      datasets: [
        ds(f.osHR, f.osLo, f.osHi, OFF_OS, OS_COL),
        ds(f.dfsHR, f.dfsLo, f.dfsHi, OFF_DFS, DFS_COL),
      ],
    },
    options: {
      responsive: false, animation: false, devicePixelRatio: 1, events: [],
      layout: { padding, autoPadding: false },
      plugins: { legend: { display: false }, tooltip: { enabled: false } },
      scales: {
        x: xScale,
        y: { type: "linear", min: -0.5, max: n - 0.5, reverse: true, display: false },
      },
    },
    plugins: [overlay, ciPlugin],
  };
}

// ---------------- React ----------------
function ChartCanvas({ cv, build }: { cv: any; build: () => any }) {
  const ref = useRef<HTMLCanvasElement | null>(null);
  useEffect(() => {
    if (!ref.current) return;
    const chart = new Chart(ref.current, build());
    return () => chart.destroy();
  }, []);
  return (
    <canvas
      ref={ref}
      width={cv.w}
      height={cv.h}
      style={{ position: "absolute", left: cv.left, top: cv.top, width: cv.w, height: cv.h }}
    />
  );
}

const rotText = (cx: number, cy: number): any => ({
  position: "absolute",
  left: cx,
  top: cy,
  transform: "translate(-50%, -50%) rotate(-90deg)",
  whiteSpace: "nowrap",
  color: "#fff",
  font: `bold 24px ${FONT}`,
  lineHeight: "28px",
});

export default function App() {
  return (
    <div style={{ position: "absolute", left: 0, top: 0, width: 1232, height: 1472, background: "#fff", overflow: "hidden" }}>
      {KM_SPECS.map((s, i) => (
        <ChartCanvas key={"km" + i} cv={s.cv} build={() => kmConfig(s)} />
      ))}
      <div style={{ position: "absolute", left: 385, top: 10, width: 68, height: 785, background: "#1B75BC" }} />
      <div style={{ position: "absolute", left: 385, top: 795, width: 68, height: 677, background: "#8DC63F" }} />
      <div style={rotText(419, 400)}>ZSHS Cohort</div>
      <div style={rotText(419, 1144)}>TCGA Cohort</div>
      {FOREST_SPECS.map((f, i) => (
        <ChartCanvas key={"fp" + i} cv={f.cv} build={() => forestConfig(f)} />
      ))}
    </div>
  );
}
